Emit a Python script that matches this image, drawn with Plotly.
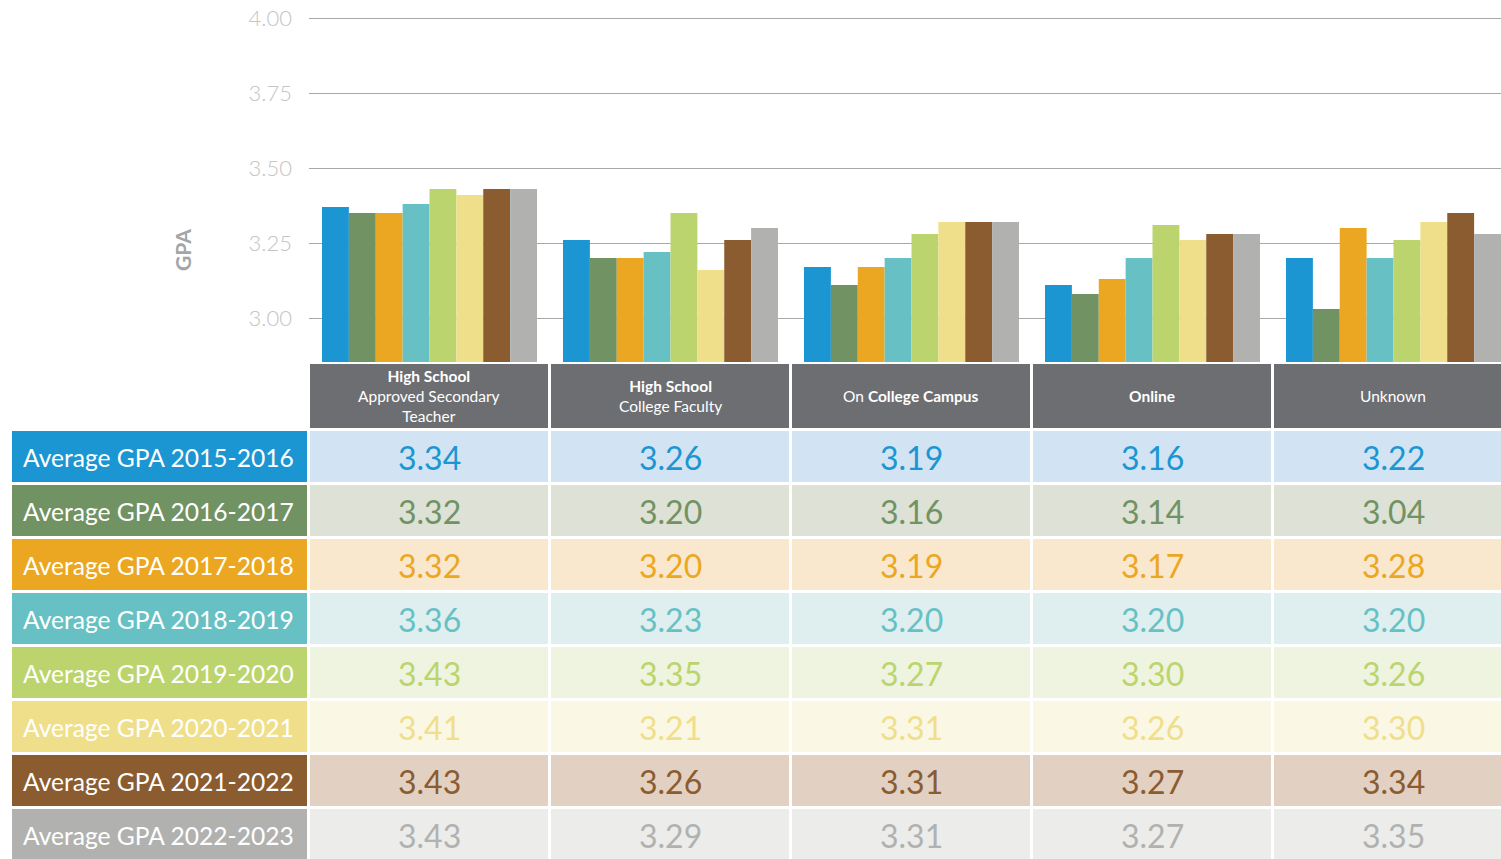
import plotly.graph_objects as go

# categories (table header text / bar groups)
categories = [
    "<b>High School</b><br>Approved Secondary<br>Teacher",
    "<b>High School</b><br>College Faculty",
    "On <b>College Campus</b>",
    "<b>Online</b>",
    "Unknown",
]
years = ["2015-2016", "2016-2017", "2017-2018", "2018-2019",
         "2019-2020", "2020-2021", "2021-2022", "2022-2023"]

# bar heights as drawn in the chart (per year, one value per category)
bar_2015 = [3.37, 3.26, 3.17, 3.11, 3.20]
bar_2016 = [3.35, 3.20, 3.11, 3.08, 3.03]
bar_2017 = [3.35, 3.20, 3.17, 3.13, 3.30]
bar_2018 = [3.38, 3.22, 3.20, 3.20, 3.20]
bar_2019 = [3.43, 3.35, 3.28, 3.31, 3.26]
bar_2020 = [3.41, 3.16, 3.32, 3.26, 3.32]
bar_2021 = [3.43, 3.26, 3.32, 3.28, 3.35]
bar_2022 = [3.43, 3.30, 3.32, 3.28, 3.28]

# values printed in the table
tbl_2015 = ["3.34", "3.26", "3.19", "3.16", "3.22"]
tbl_2016 = ["3.32", "3.20", "3.16", "3.14", "3.04"]
tbl_2017 = ["3.32", "3.20", "3.19", "3.17", "3.28"]
tbl_2018 = ["3.36", "3.23", "3.20", "3.20", "3.20"]
tbl_2019 = ["3.43", "3.35", "3.27", "3.30", "3.26"]
tbl_2020 = ["3.41", "3.21", "3.31", "3.26", "3.30"]
tbl_2021 = ["3.43", "3.26", "3.31", "3.27", "3.34"]
tbl_2022 = ["3.43", "3.29", "3.31", "3.27", "3.35"]

bars = [bar_2015, bar_2016, bar_2017, bar_2018, bar_2019, bar_2020, bar_2021, bar_2022]
tables = [tbl_2015, tbl_2016, tbl_2017, tbl_2018, tbl_2019, tbl_2020, tbl_2021, tbl_2022]

colors = ["#1b96d2", "#719263", "#eba721", "#67c1c4",
          "#bcd46e", "#f0df8a", "#8a5c30", "#b1b2b0"]
tints = ["#d2e3f3", "#dee1d5", "#f9e8cd", "#dfefef",
         "#eef4e0", "#faf7e4", "#e2d1c2", "#ececeb"]
header_grey = "#6d6e71"

W, H = 1501, 859
FONT = "Lato"

# table grid in page pixels (column / row edges)
col_edges = [11, 308.5, 549.5, 790.5, 1031.5, 1272.5, 1513.5]
row_edges = [363, 429.5] + [429.5 + 54 * (k + 1) for k in range(len(years))]

fig = go.Figure()

x_pos = list(range(len(categories)))
for i, yr in enumerate(years):
    fig.add_trace(go.Bar(
        x=x_pos, y=bars[i], name="Average GPA " + yr,
        marker=dict(color=colors[i], line_width=0),
        hoverinfo="y+name", xaxis="x", yaxis="y",
    ))

# table cells: discrete colour index per cell
palette = colors + tints + [header_grey, "white"]
n = len(palette)
cscale = []
for k, c in enumerate(palette):
    cscale += [[k / n, c], [(k + 1) / n, c]]
z = [[n - 1] + [n - 2] * len(categories)]
for r in range(len(years)):
    z.append([r] + [len(colors) + r] * len(categories))

fig.add_trace(go.Heatmap(
    x=col_edges, y=row_edges, z=z,
    colorscale=cscale, zmin=-0.5, zmax=n - 0.5, showscale=False,
    xgap=3, ygap=3, hoverinfo="skip", xaxis="x2", yaxis="y2",
))

col_mid = [(col_edges[c] + col_edges[c + 1]) / 2 for c in range(len(col_edges) - 1)]
row_mid = [(row_edges[r] + row_edges[r + 1]) / 2 for r in range(len(row_edges) - 1)]

for c, cat in enumerate(categories):
    fig.add_annotation(
        x=col_mid[c + 1], y=row_mid[0], xref="x2", yref="y2", text=cat,
        showarrow=False, xanchor="center", yanchor="middle",
        font=dict(family=FONT, size=15.5, color="white"),
    )
for r, yr in enumerate(years):
    fig.add_annotation(
        x=21, y=row_mid[r + 1] + 1, xref="x2", yref="y2", text="Average GPA " + yr,
        showarrow=False, xanchor="left", yanchor="middle",
        font=dict(family=FONT, size=24.6, color="white"),
    )
    for c in range(len(categories)):
        fig.add_annotation(
            x=col_mid[c + 1], y=row_mid[r + 1] + 1, xref="x2", yref="y2",
            text=tables[r][c], showarrow=False, xanchor="center", yanchor="middle",
            font=dict(family=FONT, size=32, color=colors[r]),
        )

fig.add_annotation(
    x=182 / W, y=1 - 250 / H, xref="paper", yref="paper",
    text="<b>GPA</b>", textangle=-90, showarrow=False,
    xanchor="center", yanchor="middle",
    font=dict(family=FONT, size=21, color="#a3a5a8", weight=900),
)

split = (H - 362) / H
fig.update_layout(
    width=W, height=H,
    margin=dict(l=0, r=0, t=0, b=0, autoexpand=False),
    paper_bgcolor="white", plot_bgcolor="white",
    barmode="group", bargap=0.108, bargroupgap=0,
    showlegend=False,
    font=dict(family=FONT),
    xaxis=dict(
        domain=[309 / W, 1],
        range=[-0.5, -0.5 + (W - 309) / 241],
        showticklabels=False, showgrid=False, zeroline=False,
        fixedrange=True, automargin=False,
    ),
    yaxis=dict(
        domain=[split, 1],
        range=[3.0 - 44 / 300, 3.0 + 318 / 300],
        tickvals=[3.0, 3.25, 3.5, 3.75, 4.0], tickformat=".2f",
        tickfont=dict(family=FONT, size=22, color="#c4c4c4", weight=300),
        ticklabelstandoff=16,
        showgrid=True, gridcolor="#a8a8a8", gridwidth=1.2,
        zeroline=False, showline=False, fixedrange=True, automargin=False,
    ),
    xaxis2=dict(
        domain=[0, 1], range=[0, W], anchor="y2",
        visible=False, fixedrange=True, automargin=False,
    ),
    yaxis2=dict(
        domain=[0, split], range=[H, 362], anchor="x2",
        visible=False, fixedrange=True, automargin=False,
    ),
)

# drop the default page margin so the figure sits at the window's corner
fig.write_html("out.html", config={"displayModeBar": False},
               post_script="document.body.style.margin='0';")
